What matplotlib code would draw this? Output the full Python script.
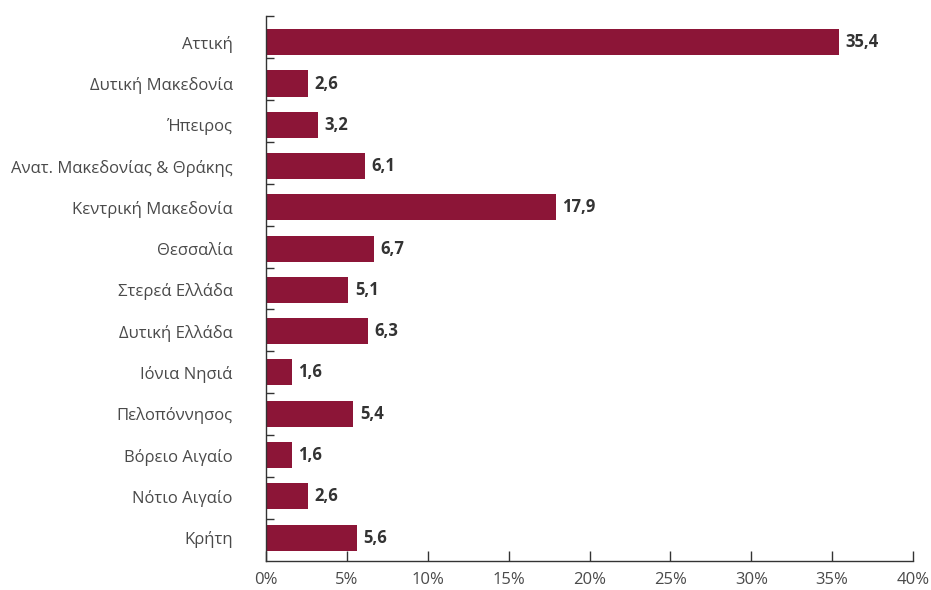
import matplotlib
matplotlib.use('Agg')
import matplotlib.pyplot as plt
import numpy as np

plt.rcParams['font.family'] = ['Open Sans', 'DejaVu Sans']

# Περιφέρειες και ποσοστά
regions = ['Αττική', 'Δυτική Μακεδονία', 'Ήπειρος', 'Ανατ. Μακεδονίας & Θράκης',
           'Κεντρική Μακεδονία', 'Θεσσαλία', 'Στερεά Ελλάδα', 'Δυτική Ελλάδα',
           'Ιόνια Νησιά', 'Πελοπόννησος', 'Βόρειο Αιγαίο', 'Νότιο Αιγαίο', 'Κρήτη']
values = [35.4, 2.6, 3.2, 6.1, 17.9, 6.7, 5.1, 6.3, 1.6, 5.4, 1.6, 2.6, 5.6]
xticks = [0, 5, 10, 15, 20, 25, 30, 35, 40]

bar_color = '#8c1537'
text_color = '#4a4a4a'

fig = plt.figure(figsize=(9.31, 5.9), dpi=100)
ax = fig.add_axes([0.2857, 0.049, 0.695, 0.924])

y = np.arange(len(regions))
ax.barh(y, values, height=0.63, color=bar_color)

for yi, v in zip(y, values):
    ax.text(v + 0.4, yi, f'{v:.1f}'.replace('.', ','), va='center', ha='left',
            fontsize=12, fontweight='bold', color='#333333')

y_top, y_bot = -0.637, len(regions) - 1 + 0.57
ax.set_xlim(0, 40)
ax.set_ylim(y_bot, y_top)
ax.set_xticks(xticks)
ax.set_xticklabels([f'{t}%' for t in xticks])
ax.set_yticks(y)
ax.set_yticklabels(regions)
ax.set_yticks(np.linspace(y_top, y_bot, len(regions) + 1)[:-1], minor=True)

ax.tick_params(axis='y', which='major', length=0, pad=24, labelsize=12, labelcolor=text_color)
ax.tick_params(axis='y', which='minor', direction='in', length=6, color='#333333', width=1)
ax.tick_params(axis='x', direction='in', length=7, color='#333333', width=1,
               labelsize=12, labelcolor=text_color, pad=8)

for s in ['top', 'right']:
    ax.spines[s].set_visible(False)
for s in ['left', 'bottom']:
    ax.spines[s].set_color('#333333')
    ax.spines[s].set_linewidth(1)

fig.savefig('out.png', dpi=100)
